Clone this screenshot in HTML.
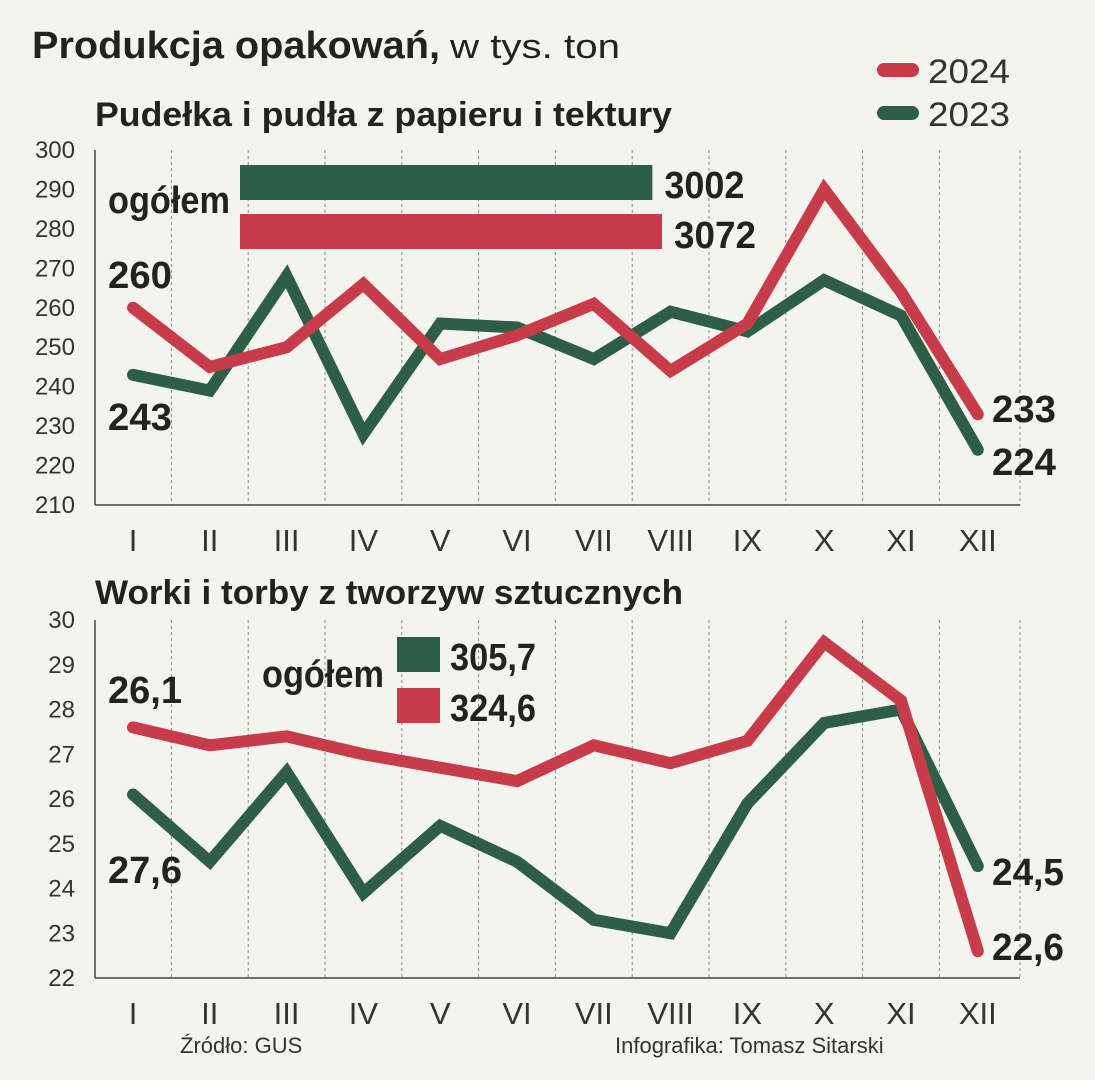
<!DOCTYPE html>
<html><head><meta charset="utf-8">
<style>
html,body{margin:0;padding:0;background:#f4f4ef;}
svg{display:block;font-family:"Liberation Sans Narrow","Liberation Sans",sans-serif;}
</style></head>
<body>
<svg id="c" width="1095" height="1080" viewBox="0 0 1095 1080">
<rect width="1095" height="1080" fill="#f4f4ef"/>
<text x="32" y="58" font-size="38" font-weight="bold" fill="#222" textLength="408" lengthAdjust="spacingAndGlyphs">Produkcja opakowań,</text>
<text x="450" y="58" font-size="34" fill="#222" textLength="170" lengthAdjust="spacingAndGlyphs">w tys. ton</text>
<g>
<line x1="884" y1="70" x2="912" y2="70" stroke="#c83c4a" stroke-width="14" stroke-linecap="round"/>
<text x="928" y="83" font-size="34" fill="#333" textLength="82" lengthAdjust="spacingAndGlyphs" font-family="Liberation Sans, sans-serif">2024</text>
<line x1="884" y1="113" x2="912" y2="113" stroke="#2e5e45" stroke-width="14" stroke-linecap="round"/>
<text x="928" y="126" font-size="34" fill="#333" textLength="82" lengthAdjust="spacingAndGlyphs" font-family="Liberation Sans, sans-serif">2023</text>
</g>
<text x="95" y="126" font-size="34" font-weight="bold" fill="#222" textLength="577" lengthAdjust="spacingAndGlyphs">Pudełka i pudła z papieru i tektury</text>
<text x="95" y="604" font-size="34" font-weight="bold" fill="#222" textLength="588" lengthAdjust="spacingAndGlyphs">Worki i torby z tworzyw sztucznych</text>
<g id="top"></g>
<g id="bot"></g>
<text x="180" y="1053" font-size="22" fill="#333" font-family="Liberation Sans, sans-serif">Źródło: GUS</text>
<text x="615" y="1053" font-size="22" fill="#333" font-family="Liberation Sans, sans-serif">Infografika: Tomasz Sitarski</text>
</svg>
<script>
const months = ["I","II","III","IV","V","VI","VII","VIII","IX","X","XI","XII"];
const topRed = [260,245,250,266,247,253,261,244,256,290,264,233];
const topGreen = [243,239,268,228,256,255,247,259,254,267,258,224];
const topTicks = [300,290,280,270,260,250,240,230,220,210];
const topTotals = [3002,3072];
const botRed = [27.6,27.2,27.4,27.0,26.7,26.4,27.2,26.8,27.3,29.5,28.2,22.6];
const botGreen = [26.1,24.6,26.6,23.9,25.4,24.6,23.3,23.0,25.9,27.7,28.0,24.5];
const botTicks = [30,29,28,27,26,25,24,23,22];
const botTotals = ["305,7","324,6"];

const NS="http://www.w3.org/2000/svg";
const GREEN="#2e5e45", RED="#c83c4a";
function mk(parent,tag,attrs){const e=document.createElementNS(NS,tag);for(const k in attrs)e.setAttribute(k,attrs[k]);parent.appendChild(e);return e;}
function xPos(i){return 133+i*76.8;}

function drawChart(gid,cfg){
  const g=document.getElementById(gid);
  const y=v=>cfg.yTop+(cfg.vMax-v)/(cfg.vMax-cfg.vMin)*(cfg.yBot-cfg.yTop);
  for(let i=0;i<12;i++){
    const gx=i===11?1020:(xPos(i)+xPos(i+1))/2;
    const l=mk(g,"line",{x1:gx,y1:cfg.yTop,x2:gx,y2:cfg.yBot,stroke:"#888","stroke-width":1,"stroke-dasharray":"3,3"});
    
    
  }
  const ax=mk(g,"line",{x1:95,y1:cfg.yTop,x2:95,y2:cfg.yBot,stroke:"#444","stroke-width":1.5});
  
  
  const bx=mk(g,"line",{x1:95,y1:cfg.yBot,x2:1020,y2:cfg.yBot,stroke:"#444","stroke-width":1.5});
  
  
  cfg.ticks.forEach(t=>{
    const tx=mk(g,"text",{x:75,y:y(t)+8,"font-size":24,fill:"#333","text-anchor":"end","font-family":"Liberation Sans, sans-serif"});
    tx.textContent=cfg.fmt(t);
    
    
  });
  months.forEach((m,i)=>{
    const tx=mk(g,"text",{x:xPos(i),y:cfg.yBot+46,"font-size":31,fill:"#333","text-anchor":"middle","font-family":"Liberation Sans, sans-serif"});
    tx.textContent=m;
    
    
  });
  [[cfg.green,GREEN,"series-2023-line"],[cfg.red,RED,"series-2024-line"]].forEach(([d,c,n])=>{
    const p=mk(g,"polyline",{points:d.map((v,i)=>xPos(i)+","+y(v)).join(" "),fill:"none",stroke:c,"stroke-width":12,"stroke-linejoin":"miter","stroke-linecap":"round"});
    
    
  });
  return y;
}
function label(g,x,yy,txt,name,w){
  const a={x:x,y:yy,"font-size":38,"font-weight":"bold",fill:"#222"};
  if(w){a.textLength=w;a.lengthAdjust="spacingAndGlyphs";}
  const t=mk(g,"text",a);
  t.textContent=txt;
  
  
}
function bar(g,x,yy,w,h,c,name){
  const r=mk(g,"rect",{x:x,y:yy,width:w,height:h,fill:c});
  
  
}

const tg=document.getElementById("top");
drawChart("top",{yTop:150,yBot:505,vMax:300,vMin:210,ticks:topTicks,red:topRed,green:topGreen,fmt:v=>v});
const topScale=v=>v/3072*422;
bar(tg,240,165,topScale(topTotals[0]),35,GREEN,"total-bar-2023");
bar(tg,240,214,topScale(topTotals[1]),35,RED,"total-bar-2024");
label(tg,240+topScale(topTotals[0])+12,198,String(topTotals[0]),"total-value-2023",80);
label(tg,240+topScale(topTotals[1])+12,248,String(topTotals[1]),"total-value-2024",82);
label(tg,108,213,"ogółem","total-label-top",122);
label(tg,108,288,String(topRed[0]),"start-label-2024",64);
label(tg,108,430,String(topGreen[0]),"start-label-2023",64);
label(tg,992,422,String(topRed[11]),"end-label-2024",64);
label(tg,992,475,String(topGreen[11]),"end-label-2023",64);

const bg=document.getElementById("bot");
const fmt=v=>String(v).replace(".",",");
drawChart("bot",{yTop:620,yBot:978,vMax:30,vMin:22,ticks:botTicks,red:botRed,green:botGreen,fmt:fmt});
bar(bg,397,637,43,35,GREEN,"total-bar-2023-bottom");
bar(bg,397,688,43,35,RED,"total-bar-2024-bottom");
label(bg,450,670,botTotals[0],"total-value-2023-bottom",86);
label(bg,450,721,botTotals[1],"total-value-2024-bottom",86);
label(bg,262,687,"ogółem","total-label-bottom",122);
label(bg,108,703,fmt(botGreen[0]),"start-label-top-bottom-chart",74);
label(bg,108,883,fmt(botRed[0]),"start-label-lower-bottom-chart",74);
label(bg,992,885,fmt(botGreen[11]),"end-label-2023-bottom",72);
label(bg,992,960,fmt(botRed[11]),"end-label-2024-bottom",72);
</script>
</body></html>
